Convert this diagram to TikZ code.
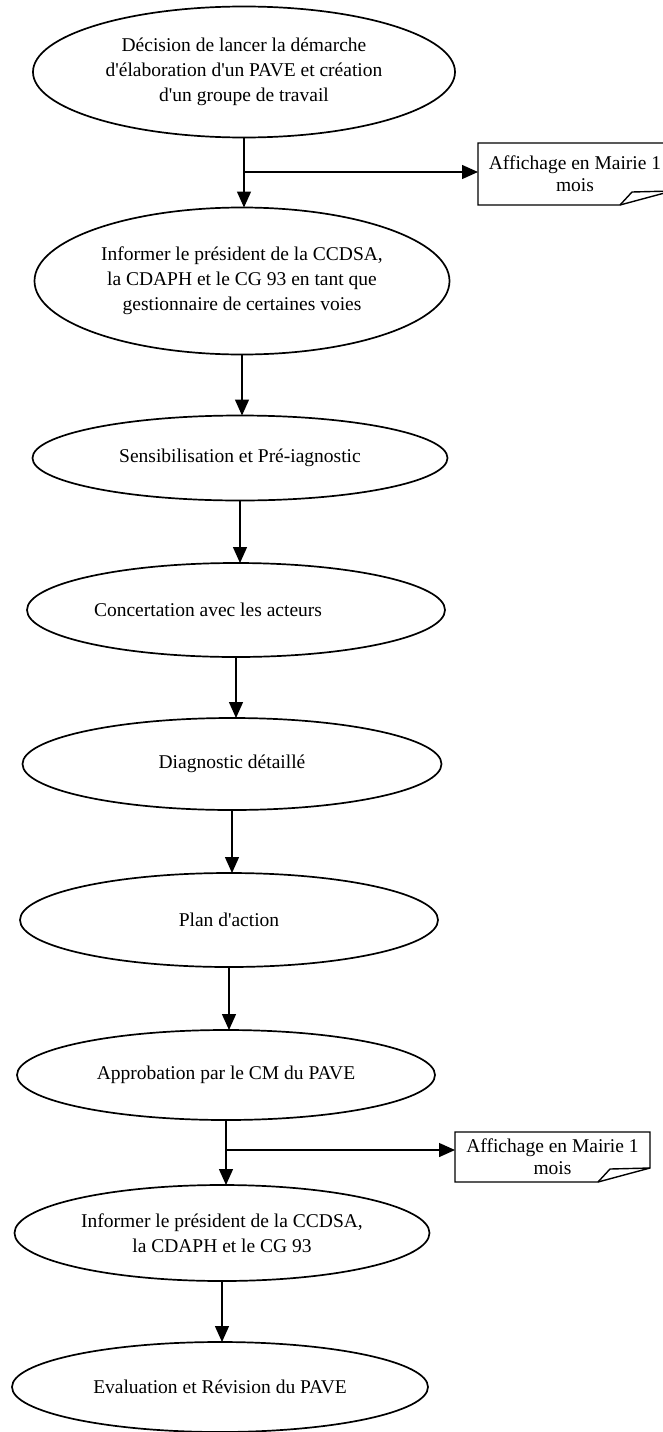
\documentclass[tikz,border=0pt]{standalone}
\usepackage{fontspec}
\setmainfont{Liberation Serif}
\usetikzlibrary{shapes.geometric,arrows.meta}
\begin{document}
\begin{tikzpicture}[x=1pt,y=-1pt,
  stage/.style={ellipse,draw,line width=1.7pt,inner sep=0pt,outer sep=0pt,align=center,
    font=\fontsize{19.5}{25}\selectfont},
  notebox/.style={inner sep=0pt,outer sep=0pt,align=center,font=\fontsize{19.5}{22}\selectfont},
  arr/.style={line width=1.4pt,-{Triangle[width=14pt,length=16pt]}},
  noteline/.style={line width=1.4pt,line join=miter}]
\useasboundingbox (0,0) rectangle (662,1432);
\fill[white] (0,0) rectangle (662,1432);

% stages
\node[stage,minimum width=422pt,minimum height=131pt] (E1) at (244,72)
  {Décision de lancer la démarche\\d\textquotesingle élaboration d\textquotesingle un PAVE et création\\d\textquotesingle un groupe de travail};
\node[stage,minimum width=415pt,minimum height=147pt] (E2) at (242,281)
  {Informer le président de la CCDSA,\\la CDAPH et le CG 93 en tant que\\gestionnaire de certaines voies};
\node[stage,minimum width=415pt,minimum height=85pt] (E3) at (240,458)
  {Sensibilisation et Pré-iagnostic};
\node[stage,minimum width=418pt,minimum height=94pt] (E4) at (236,610)
  {Concertation avec les acteurs\hspace*{56pt}};
\node[stage,minimum width=419pt,minimum height=92pt] (E5) at (232,764)
  {Diagnostic détaillé};
\node[stage,minimum width=418pt,minimum height=94pt] (E6) at (229,920)
  {Plan d\textquotesingle action};
\node[stage,minimum width=418pt,minimum height=90pt] (E7) at (226,1075)
  {Approbation par le CM du PAVE};
\node[stage,minimum width=415pt,minimum height=96pt] (E8) at (222,1233)
  {Informer le président de la CCDSA,\\la CDAPH et le CG 93};
\node[stage,minimum width=416pt,minimum height=90pt] (E9) at (220,1387)
  {Evaluation et Révision du PAVE};

% notes with folded corner
\node[notebox,minimum width=194pt,minimum height=62pt] (N1) at (575,174)
  {Affichage en Mairie 1\\mois};
\node[notebox,minimum width=195pt,minimum height=50pt] (N2) at (552.5,1157)
  {Affichage en Mairie 1\\mois};
\foreach \n in {N1,N2}{
  \draw[noteline] (\n.north west) -- (\n.north east) -- ([yshift=14pt]\n.south east)
    -- ([xshift=-52pt]\n.south east) -- (\n.south west) -- cycle;
  \draw[noteline] ([xshift=-52pt]\n.south east) -- ([xshift=-40pt,yshift=13pt]\n.south east)
    -- ([yshift=14pt]\n.south east);
}

% connectors
\draw[arr] (E1.south) -- (E1.south |- E2.north);
\draw[arr] ([yshift=2pt]E1.south |- N1.west) -- ([yshift=2pt]N1.west);
\draw[arr] (E2.south) -- (E2.south |- E3.north);
\draw[arr] (E3.south) -- (E3.south |- E4.north);
\draw[arr] (E4.south) -- (E4.south |- E5.north);
\draw[arr] (E5.south) -- (E5.south |- E6.north);
\draw[arr] (E6.south) -- (E6.south |- E7.north);
\draw[arr] (E7.south) -- (E7.south |- E8.north);
\draw[arr] ([yshift=7pt]E7.south |- N2.west) -- ([yshift=7pt]N2.west);
\draw[arr] (E8.south) -- (E8.south |- E9.north);
\end{tikzpicture}
\end{document}
